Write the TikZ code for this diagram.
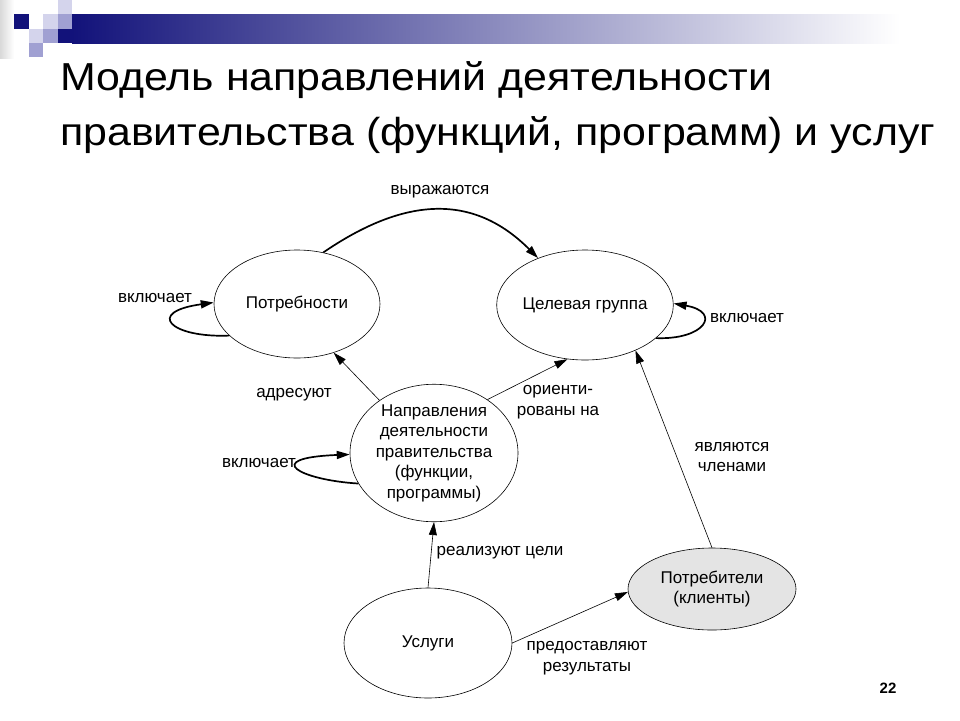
\documentclass[tikz,border=0pt]{standalone}
\usepackage{fontspec}
\setmainfont{Liberation Sans}
\usepackage{tikz}
\usetikzlibrary{arrows.meta,calc,positioning,shapes.geometric}
\definecolor{navy}{HTML}{12127A}
\definecolor{barmid}{HTML}{A0A0B6}
\definecolor{lavlight}{HTML}{D4D4EC}
\definecolor{lavmid}{HTML}{A0A0D2}
\definecolor{clientgray}{HTML}{E4E4E4}

\begin{document}
\begin{tikzpicture}[x=1pt,y=-1pt,
  ell/.style={ellipse,draw,line width=0.6pt,inner sep=0pt,align=center,
    font=\fontsize{17}{20.5}\selectfont},
  lbl/.style={align=center,font=\fontsize{17}{20.5}\selectfont},
  ttl/.style={anchor=base west,inner sep=0pt,font=\fontsize{39}{47}\selectfont},
  conn/.style={line width=0.6pt,-{Triangle[length=13pt,width=8pt]}},
  loopy/.style={line width=1.7pt,-{Triangle[length=13pt,width=8pt]}}]
\useasboundingbox (0,0) rectangle (960,720);

% slide decoration
\shade[left color=gray!30,right color=white] (0,0) rectangle (14,58);
\shade[left color=navy,middle color=barmid,right color=white] (72,14) rectangle (900,43);
\fill[navy] (14,14) rectangle (29,29);
\fill[navy] (58,29) rectangle (72,43);
\fill[lavlight] (58,0) rectangle (72,14);
\fill[lavlight] (43,14) rectangle (58,29);
\fill[lavmid] (58,14) rectangle (72,29);
\fill[lavlight] (29,29) rectangle (43,43);
\fill[lavmid] (43,29) rectangle (58,43);
\fill[lavmid] (29,43) rectangle (43,57);

\node[ttl] (title1) at (60,90) {\scalebox{1.1}[1]{Модель направлений деятельности}};
\node[ttl] (title2) at (60,145) {\scalebox{1.1}[1]{правительства (функций, программ) и услуг}};

\node[ell,minimum width=166pt,minimum height=108pt] (needs) at (297,304) {Потребности};
\node[ell,minimum width=166pt,minimum height=110pt] (group) at (585,305) {Целевая группа};
\node[ell,minimum width=168pt,minimum height=134pt] (dirs) at (434,453)
  {Направления\\деятельности\\правительства\\(функции,\\программы)};
\node[ell,fill=clientgray,minimum width=168pt,minimum height=82pt] (clients) at (712,589)
  {Потребители\\(клиенты)};
\node[ell,minimum width=168pt,minimum height=110pt] (services) at (428,643) {Услуги};

\draw[loopy] (needs.63) .. controls (400,200) and (470,190) .. (group.135);
\draw[loopy] (needs.205) .. controls (170,338) and (145,312) .. (needs.179);
\draw[loopy] (group.335) .. controls (705,340) and (722,312) .. (group.1);
\draw[loopy] (dirs.202) .. controls (300,480) and (260,458) .. (dirs.181);
\draw[conn] (dirs.136) -- (needs.307);
\draw[conn] (dirs.45) -- (group.252);
\draw[conn] (services.north) -- (dirs.south);
\draw[conn] (services.east) -- (clients.182);
\draw[conn] (clients.north) -- (group.318);

\node[lbl] (lexpr) at (440,192) {выражаются};
\node[lbl] (lneeds) at (155,298) {включает};
\node[lbl] (lgroup) at (747,318) {включает};
\node[lbl] (laddr) at (294,395) {адресуют};
\node[lbl] (lorient) at (558,402) {ориенти-\\рованы на};
\node[lbl] (ldirs) at (259,463) {включает};
\node[lbl] (lreal) at (500,553) {реализуют цели};
\node[lbl] (lprov) at (587,658) {предоставляют\\результаты};
\node[lbl] (lmemb) at (732,457) {являются\\членами};

\node[font=\fontsize{15}{18}\selectfont\bfseries] (page) at (888,688) {22};
\end{tikzpicture}
\end{document}
